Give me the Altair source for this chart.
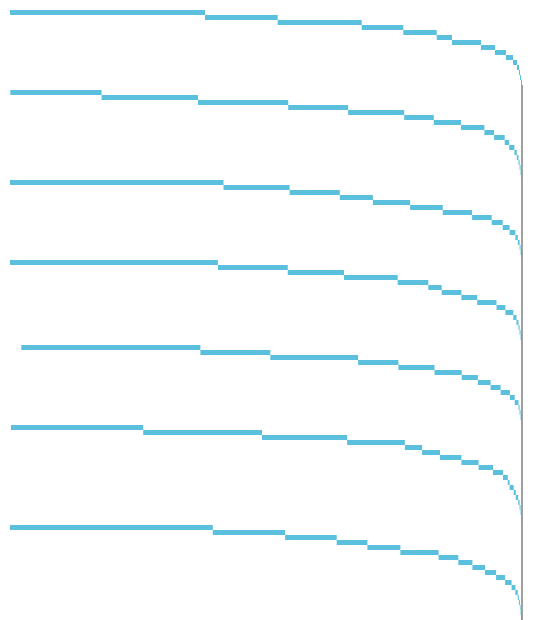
import altair as alt
import pandas as pd

# segment widths per group, in x-units (total ~512)
g1 = [195, 72.7, 84, 41.6, 33.4, 15.3, 29, 14, 11, 7, 4, 2, 1, 1, 1, 0.3]
g2 = [91.3, 96.4, 90.2, 59.9, 56.1, 29.6, 27.2, 23.4, 9.7, 10.6, 4.5, 5.2, 2.4, 1.7, 1.1, 1.0, 0.8, 0.5]
g3 = [213.5, 66.1, 50.2, 33.1, 37.2, 32.7, 29.3, 19.6, 11, 6.9, 5.8, 2.4, 1.8, 1.0, 1.0, 0.4]
g4 = [207.9, 69.9, 56.2, 53.7, 30.6, 13.4, 19.7, 15.8, 19.3, 8.9, 7.9, 3.2, 2.0, 1.1, 1.0, 1.0, 0.4]
g5 = [179.1, 69.9, 87.8, 40.3, 36.1, 27.2, 16.2, 12.7, 10, 9.3, 4.8, 3.8, 1.1, 1.0, 1.0, 0.4]
g6 = [132.2, 118.8, 85.1, 57.8, 17.2, 17.9, 21.4, 17.2, 14.4, 10, 4.8, 1.8, 4.1, 2.1, 2.4, 1.4, 1.0, 0.7, 0.4, 0.3]
g7 = [202.8, 72.3, 51.6, 30.7, 33, 38.2, 19.7, 14.1, 12.7, 11, 9, 6.5, 3.8, 2.4, 1.1, 1.0, 0.7, 0.7, 0.7]
groups = [g1, g2, g3, g4, g5, g6, g7]
offsets = [0, 0.3, 0, 0, 11.3, 1.0, 0]
total = 512

rows = []
r = 0
for gi, (w, off) in enumerate(zip(groups, offsets)):
    x = off
    for v in w:
        rows.append(dict(group=gi + 1, row=r, row2=r + 1, x=x, x2=x + v))
        x += v
        r += 1
df = pd.DataFrame(rows)
n_rows = r

rule_df = pd.DataFrame([dict(x=total, y=len(g1) - 1, y2=n_rows)])

xs = alt.Scale(domain=[0, total])
ys = alt.Scale(domain=[0, n_rows], reverse=True)

bars = alt.Chart(df).mark_rect(color="#5bc0de").encode(
    x=alt.X("x:Q", scale=xs, axis=None),
    x2="x2:Q",
    y=alt.Y("row:Q", scale=ys, axis=None),
    y2="row2:Q",
)

rule = alt.Chart(rule_df).mark_rule(color="#808080", strokeWidth=1.5).encode(
    x=alt.X("x:Q", scale=xs, axis=None),
    y=alt.Y("y:Q", scale=ys, axis=None),
    y2="y2:Q",
)

chart = (bars + rule).properties(
    width=512,
    height=610,
    padding={"left": 10, "top": 10, "right": 18, "bottom": 0},
    autosize=alt.AutoSizeParams(type="none"),
).configure_view(stroke=None)

chart.save("out.html", embed_options={"renderer": "svg", "actions": False})
